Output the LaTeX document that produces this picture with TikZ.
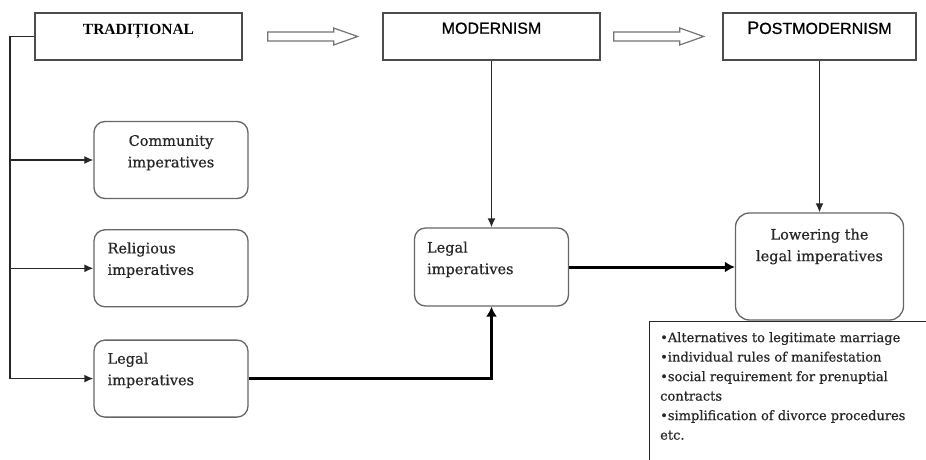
\documentclass[tikz,border=0pt]{standalone}
\usepackage{fontspec}
\setmainfont{DejaVu Serif}[FakeBold=0.6]
\newfontfamily\headsans{Liberation Sans}[FakeBold=0.8]
\newfontfamily\headserif{Liberation Serif}
\usetikzlibrary{arrows.meta,positioning}

\begin{document}
\begin{tikzpicture}[
  x=1pt, y=-1pt,
  headbox/.style={rectangle, draw=black!70, line width=1.3pt,
                  minimum height=47pt, inner sep=0pt},
  ibox/.style={rectangle, draw=black!60, line width=1.3pt,
               rounded corners=11pt, minimum width=154pt,
               minimum height=77pt, inner sep=0pt},
  listbox/.style={rectangle, draw=black!85, line width=1.3pt,
                  minimum width=300pt, minimum height=170pt, inner sep=0pt},
  htxt/.style={inner sep=0pt},
  itxt/.style={inner sep=0pt, align=left, text=black!85,
               font=\fontsize{14.5}{21.5}\selectfont},
  ltxt/.style={inner sep=0pt, align=left, text=black!85,
               font=\fontsize{13}{19.5}\selectfont},
  hollow/.style={draw=black!55, fill=white, line width=1.2pt,
                 line join=miter},
  arr/.style={draw=black!85, line width=1.4pt,
              -{Latex[length=9pt,width=8pt]}},
  barr/.style={draw=black, line width=3pt,
               -{Latex[length=10pt,width=11pt]}}
]
\useasboundingbox (0,0) rectangle (926,460);

% heading row
\node[headbox, minimum width=207pt] (trad) at (138.5,36.5) {};
\node[headbox, minimum width=217pt] (mod)  at (491.5,36.5) {};
\node[headbox, minimum width=193pt] (post) at (819.5,36.5) {};
\node[htxt, anchor=north, font=\headserif\bfseries\fontsize{15.5}{18}\selectfont]
  (tradtxt) at ([yshift=-12pt]trad.north) {TRADIȚIONAL};
\node[htxt, anchor=north, font=\headsans\fontsize{16}{18}\selectfont]
  (modtxt) at ([yshift=-10pt]mod.north) {MODERNISM};
\node[htxt, anchor=north, font=\headsans\fontsize{16}{18}\selectfont]
  (posttxt) at ([yshift=-9pt]post.north) {{\fontsize{18}{20}\selectfont P}OSTMODERNISM};

% hollow arrows between the headings
\coordinate[right=25pt of trad] (go1);
\coordinate[right=13pt of mod] (go2);
\foreach \g in {go1,go2}
  \draw[hollow] (\g) ++(0,-4.5) -- ++(66,0) -- ++(0,-4) -- ++(24,8.5)
    -- ++(-24,8.5) -- ++(0,-4) -- ++(-66,0) -- cycle;

% traditional column
\node[ibox] (comm) at (171,160) {};
\node[ibox, below=30pt of comm] (relig) {};
\node[ibox, below=32pt of relig] (legT) {};
\node[itxt, anchor=north, align=center] (commtxt)
  at ([yshift=-14pt]comm.north) {Community\\imperatives};
\node[itxt, anchor=north west] (religtxt)
  at ([xshift=14pt,yshift=-13pt]relig.north west) {Religious\\imperatives};
\node[itxt, anchor=north west] (legTtxt)
  at ([xshift=14pt,yshift=-13pt]legT.north west) {Legal\\imperatives};

% modernism / postmodernism
\node[ibox, minimum height=78pt] (legM) at (491.5,267) {};
\node[itxt, anchor=north west] (legMtxt)
  at ([xshift=13pt,yshift=-14pt]legM.north west) {Legal\\imperatives};
\node[ibox, rounded corners=14pt, minimum width=168pt, minimum height=107pt]
  (lower) at (819.5,266.5) {};
\node[itxt, anchor=north, align=center] (lowertxt)
  at ([yshift=-16pt]lower.north) {Lowering the\\legal imperatives};

\begin{scope}
  \clip (0,0) rectangle (926,460);
  \node[listbox, anchor=north west] (list) at (649,321) {};
\end{scope}
\node[ltxt, anchor=north west] (listtxt)
  at ([xshift=11pt,yshift=-11pt]list.north west)
  {•Alternatives to legitimate marriage\\
   •individual rules of manifestation\\
   •social requirement for prenuptial\\
   contracts\\
   •simplification of divorce procedures\\
   etc.};

% connectors
\coordinate (rail) at (10,0);
\draw[arr] (trad.west) -| (rail |- legT.west) -- (legT.west);
\draw[arr] (rail |- comm.west) -- (comm.west);
\draw[arr] (rail |- relig.west) -- (relig.west);
\draw[arr] (mod.south) -- (legM.north);
\draw[arr] (post.south) -- (lower.north);
\draw[barr] (legT.east) -| (legM.south);
\draw[barr] (legM.east) -- (legM.east -| lower.west);
\end{tikzpicture}
\end{document}
